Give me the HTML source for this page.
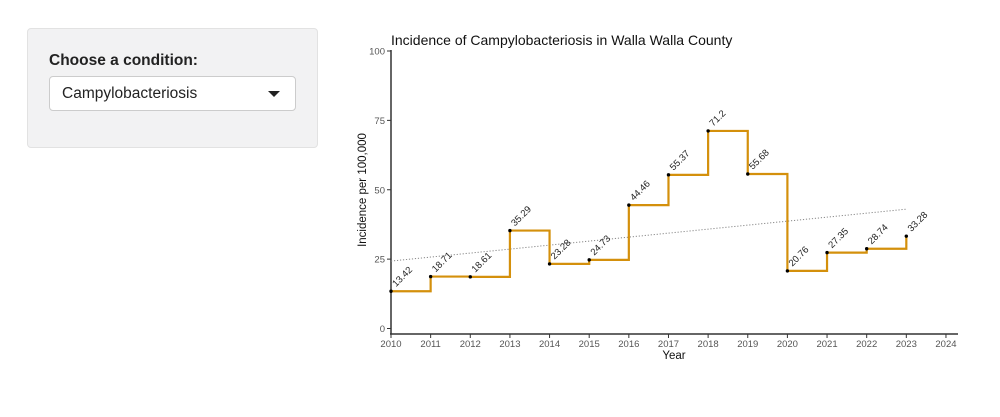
<!DOCTYPE html>
<html><head><meta charset="utf-8"><style>
body{margin:0;width:1000px;height:417px;background:#fff;font-family:"Liberation Sans",sans-serif;overflow:hidden;position:relative}
.panel{position:absolute;left:27px;top:28px;width:289px;height:118px;background:#f2f2f3;border:1px solid #e2e2e2;border-radius:4px}
.lbl{position:absolute;left:21px;top:23px;font-weight:bold;font-size:15.5px;color:#222}
.sel{position:absolute;left:21px;top:47px;width:245px;height:33px;background:#fff;border:1px solid #ccc;border-radius:4px}
.sel span{position:absolute;left:12px;top:8px;font-size:15.5px;color:#222}
.caret{position:absolute;left:218px;top:14px;width:0;height:0;border-left:6px solid transparent;border-right:6px solid transparent;border-top:6px solid #222}
svg{position:absolute;left:0;top:0}
</style></head><body>
<div class="panel"><div class="lbl">Choose a condition:</div><div class="sel"><span>Campylobacteriosis</span><div class="caret"></div></div></div>
<svg id="s" width="1000" height="417" font-family="Liberation Sans, sans-serif"></svg>
<script>
var v=[13.42,18.71,18.61,35.29,23.28,24.73,44.46,55.37,71.2,55.68,20.76,27.35,28.74,33.28];
function X(i){return 391+i*39.64}function Y(d){return 328.5-d*2.775}
var h='<text x="391" y="45" font-size="14" fill="#111">Incidence of Campylobacteriosis in Walla Walla County</text>';
h+='<line x1="391" y1="50" x2="391" y2="334" stroke="#333" stroke-width="1.5"/><line x1="390" y1="334" x2="958" y2="334" stroke="#333" stroke-width="1.5"/>';
[0,25,50,75,100].forEach(function(t){h+='<line x1="387" x2="391" y1="'+Y(t)+'" y2="'+Y(t)+'" stroke="#333"/><text x="385" y="'+(Y(t)+3.5)+'" font-size="9.5" fill="#555" text-anchor="end">'+t+'</text>';});
for(var i=0;i<=14;i++){h+='<line x1="'+X(i)+'" x2="'+X(i)+'" y1="334" y2="338" stroke="#333"/><text x="'+X(i)+'" y="347" font-size="9.5" fill="#555" text-anchor="middle">'+(2010+i)+'</text>';}
h+='<text x="674" y="359" font-size="11.5" fill="#111" text-anchor="middle">Year</text>';
h+='<text transform="translate(366,190) rotate(-90)" font-size="11.5" fill="#111" text-anchor="middle">Incidence per 100,000</text>';
h+='<line x1="391" y1="'+Y(24.3)+'" x2="'+X(13)+'" y2="'+Y(43)+'" stroke="#888" stroke-width="1" stroke-dasharray="1.2,1.8"/>';
var p='M'+X(0)+' '+Y(v[0]);for(i=1;i<14;i++){p+=' H'+X(i)+' V'+Y(v[i]);}
h+='<path d="'+p+'" fill="none" stroke="#d4900c" stroke-width="2.2"/>';
for(i=0;i<14;i++){h+='<circle cx="'+X(i)+'" cy="'+Y(v[i])+'" r="1.7" fill="#000"/><text transform="translate('+(X(i)+5)+','+(Y(v[i])-4)+') rotate(-45)" font-size="9.5" fill="#222">'+v[i]+'</text>';}
document.getElementById('s').innerHTML=h;
</script>
</body></html>
